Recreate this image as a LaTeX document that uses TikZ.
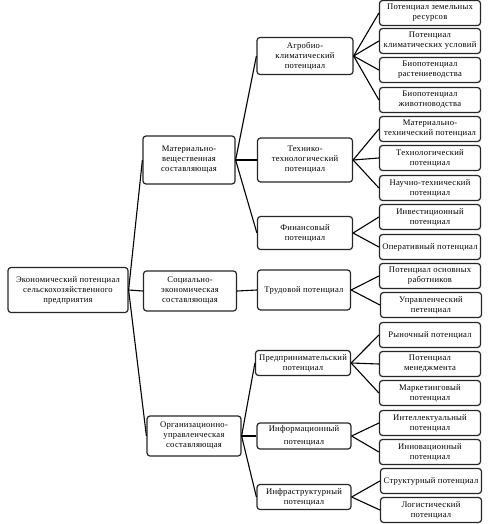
\documentclass[tikz,border=0pt]{standalone}
\usepackage{fontspec}
\setmainfont{Liberation Serif}[LetterSpace=3]
\begin{document}
\begin{tikzpicture}[x=1pt,y=-1pt,
  box/.style={draw=black!85, line width=1.2pt, rounded corners=3pt, align=center,
    font=\fontsize{8.6}{10}\selectfont, inner sep=0pt, text=black},
  leaf/.style={box, minimum width=101pt, minimum height=25pt},
  conn/.style={draw=black, line width=1.1pt}]
\useasboundingbox (0,0) rectangle (497,524);
% root and level 1
\node[box, minimum width=120pt, minimum height=45pt] (root) at (68,290) {Экономический потенциал\\сельскохозяйственного\\предприятия};
\node[box, minimum width=92pt, minimum height=48pt] (m1) at (189,160) {Материально-\\вещественная\\составляющая};
\node[box, minimum width=93pt, minimum height=40pt] (m2) at (190,291) {Социально-\\экономическая\\составляющая};
\node[box, minimum width=94pt, minimum height=40pt] (m3) at (194,436) {Организационно-\\управленческая\\составляющая};
% level 2
\node[box, minimum width=96pt, minimum height=37pt] (a1) at (305,56) {Агробио-\\климатический\\потенциал};
\node[box, minimum width=95pt, minimum height=44pt] (a2) at (305,160) {Технико-\\технологический\\потенциал};
\node[box, minimum width=95pt, minimum height=33pt] (a3) at (305,233) {Финансовый\\потенциал};
\node[box, minimum width=93pt, minimum height=40pt] (b1) at (304,290) {Трудовой потенциал};
\node[box, minimum width=95pt, minimum height=25pt] (c1) at (303,363) {Предпринимательский\\потенциал};
\node[box, minimum width=94pt, minimum height=26pt] (c2) at (304,436) {Информационный\\[3pt]потенциал};
\node[box, minimum width=94pt, minimum height=25pt] (c3) at (304,497) {Инфраструктурный\\потенциал};
% leaves
\node[leaf] (l1) at (430,13) {Потенциал земельных\\ресурсов};
\node[leaf] (l2) at (430,41) {Потенциал\\климатических условий};
\node[leaf] (l3) at (430,70) {Биопотенциал\\растениеводства};
\node[leaf] (l4) at (430,100) {Биопотенциал\\животноводства};
\node[leaf] (l5) at (430,129) {Материально-\\технический потенциал};
\node[leaf] (l6) at (430,158) {Технологический\\потенциал};
\node[leaf] (l7) at (430,188) {Научно-технический\\потенциал};
\node[leaf] (l8) at (430,217) {Инвестиционный\\потенциал};
\node[leaf] (l9) at (430,247) {Оперативный потенциал};
\node[leaf] (l10) at (430,276) {Потенциал основных\\работников};
\node[leaf] (l11) at (431,305) {Управленческий\\петенциал};
\node[leaf] (l12) at (430,335) {Рыночный потенциал};
\node[leaf] (l13) at (430,364) {Потенциал\\менеджмента};
\node[leaf] (l14) at (430,393) {Маркетинговый\\потенциал};
\node[leaf] (l15) at (430,423) {Интеллектуальный\\потенциал};
\node[leaf] (l16) at (430,452) {Инновационный\\потенциал};
\node[leaf] (l17) at (431,481) {Структурный потенциал};
\node[leaf] (l18) at (431,510) {Логистический\\потенциал};
% connectors
\foreach \c in {m1,m2,m3} \draw[conn] (root.east) -- (\c.west);
\foreach \c in {a1,a2,a3} \draw[conn] (m1.east) -- (\c.west);
\draw[conn] (m2.east) -- (b1.west);
\foreach \c in {c1,c2,c3} \draw[conn] (m3.east) -- (\c.west);
\foreach \c in {l1,l2,l3,l4} \draw[conn] (a1.east) -- (\c.west);
\foreach \c in {l5,l6,l7} \draw[conn] (a2.east) -- (\c.west);
\foreach \c in {l8,l9} \draw[conn] (a3.east) -- (\c.west);
\foreach \c in {l10,l11} \draw[conn] (b1.east) -- (\c.west);
\foreach \c in {l12,l13,l14} \draw[conn] (c1.east) -- (\c.west);
\foreach \c in {l15,l16} \draw[conn] (c2.east) -- (\c.west);
\foreach \c in {l17,l18} \draw[conn] (c3.east) -- (\c.west);
\end{tikzpicture}
\end{document}
